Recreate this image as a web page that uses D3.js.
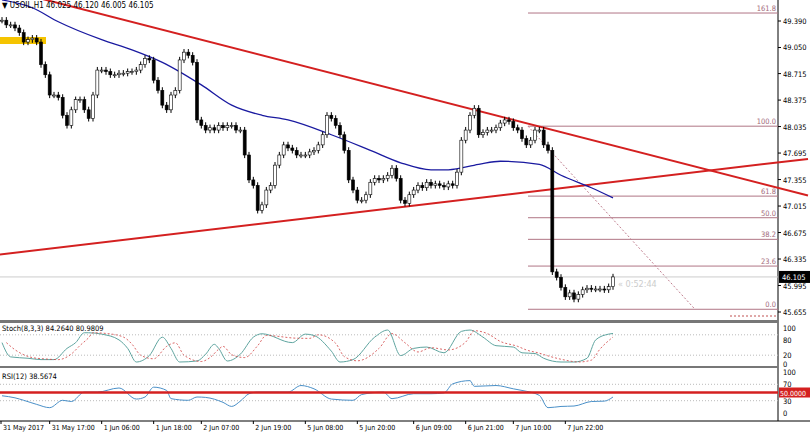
<!DOCTYPE html><html><head><meta charset="utf-8">
<script src="https://cdn.jsdelivr.net/npm/d3@7"></script>
<style>body{margin:0;background:#fff}text{font-family:"DejaVu Sans Condensed","DejaVu Sans",sans-serif;font-stretch:condensed}</style></head><body>
<svg id="c" width="810" height="433"></svg>
<script>
const closes=[49.40,49.34,49.34,49.30,49.24,49.12,49.15,49.17,49.12,48.83,
48.70,48.44,48.44,48.41,48.18,48.05,48.25,48.38,48.38,48.25,
48.14,48.44,48.76,48.76,48.74,48.70,48.70,48.72,48.72,48.74,
48.74,48.76,48.83,48.91,48.89,48.63,48.50,48.31,48.25,48.44,
48.50,48.89,48.99,48.95,48.86,48.12,48.05,47.99,48.02,47.99,
48.05,48.02,48.05,48.05,47.99,47.99,47.67,47.35,47.28,46.96,
47.03,47.22,47.28,47.54,47.67,47.80,47.76,47.73,47.67,47.67,
47.67,47.71,47.73,47.80,47.93,48.18,48.14,48.05,47.93,47.73,
47.35,47.22,47.09,47.09,47.16,47.32,47.37,47.35,47.37,47.41,
47.50,47.37,47.09,47.05,
47.16,47.22,47.28,47.25,47.32,47.28,47.30,47.28,47.26,47.30,
47.28,47.45,47.86,47.99,48.18,48.27,47.93,47.96,47.99,47.99,
48.02,48.08,48.12,48.10,48.02,47.99,47.88,47.80,47.86,47.99,
47.99,47.80,47.73,46.17,46.10,45.97,45.85,45.90,45.82,45.88,
45.94,45.96,45.95,45.95,45.95,45.94,45.98,46.105];
const maIdx=[0,7,13,23,30,37,46,53,60,66,76,85,92,99,103,110,115,124,129,136,141];
const maVal=[49.66,49.56,49.38,49.15,49.02,48.86,48.57,48.31,48.18,48.12,47.93,47.73,47.57,47.48,47.48,47.55,47.59,47.55,47.41,47.25,47.12];
const stIdx=[0,2,6,9,12,15,17,19,20,23,27,29,31,34,37,39,41,45,47,49,50,52,55,58,60,67,70,72,76,78,81,86,89,92,95,98,102,106,108,111,114,118,120,123,125,129,132,135,137,140,141];
const stVal=[57,15,11,7,7,40,57,86,86,82,65,40,0,19,73,40,0,3,23,52,40,3,23,73,83,57,82,78,32,0,7,73,94,19,40,44,27,90,94,73,48,44,27,25,11,0,0,11,65,82,84];
const rsiIdx=[0,3,5,8,11,14,16,19,22,27,31,33,35,38,39,43,45,47,51,53,55,57,59,64,66,69,72,76,81,83,88,90,95,99,102,104,108,109,114,118,120,124,126,129,132,136,139,141];
const rsiVal=[42,37,31,21,13,31,28,51,51,61,34,39,63,55,35,31,39,38,26,16,29,47,51,51,51,67,59,34,31,45,51,35,47,47,49,71,79,65,67,59,55,43,13,16,17,28,29,39];
const priceTicks=[49.390,49.050,48.715,48.375,48.035,47.695,47.355,47.015,46.675,46.335,45.995,45.655];
const timeLabels=["31 May 2017","31 May 17:00","1 Jun 06:00","1 Jun 18:00","2 Jun 07:00","2 Jun 19:00","5 Jun 08:00","5 Jun 20:00","6 Jun 09:00","6 Jun 21:00","7 Jun 10:00","7 Jun 22:00"];
const timeIdx=[0,11,23,35,46,58,70,82,95,107,118,130];
const fibLevels=[0,23.6,38.2,50,61.8,100,161.8];
const fib0=45.69, fib100=48.04;

const svg=d3.select("#c");
const x=d3.scaleLinear().domain([0,141]).range([2,613]);
const y=d3.scaleLinear().domain([45.655,49.39]).range([312,21]);
const ys=d3.scaleLinear().domain([0,100]).range([362,328]);
const yr=d3.scaleLinear().domain([0,100]).range([413,372]);
const AX=778;

svg.append("line").attr("x1",AX).attr("x2",AX).attr("y1",0).attr("y2",421).attr("stroke","#000");
svg.append("line").attr("x1",0).attr("x2",810).attr("y1",421).attr("y2",421).attr("stroke","#000");
[[320,3],[366,2]].forEach(([yy,w])=>svg.append("rect").attr("x",0).attr("y",yy).attr("width",AX).attr("height",w).attr("fill","#777"));

const ax=svg.append("g");
priceTicks.forEach(p=>{ax.append("line").attr("x1",AX).attr("x2",AX+3).attr("y1",y(p)).attr("y2",y(p)).attr("stroke","#000");
 ax.append("text").attr("x",AX+5).attr("y",y(p)+3).attr("font-size",7.5).text(p.toFixed(3));});

const fy=l=>y(fib0+(fib100-fib0)*l/100);
fibLevels.forEach(l=>{svg.append("line").attr("x1",528).attr("x2",AX).attr("y1",fy(l)).attr("y2",fy(l)).attr("stroke","#b07585").attr("stroke-width",1);
 svg.append("text").attr("x",776).attr("y",fy(l)-2).attr("text-anchor","end").attr("font-size",7.5).attr("fill","#a36a7a").text(l.toFixed(1));});
svg.append("line").attr("x1",528).attr("y1",fy(100)).attr("x2",695).attr("y2",fy(0)).attr("stroke","#c08090").attr("stroke-dasharray","2,2");
svg.append("line").attr("x1",730).attr("y1",316).attr("x2",776).attr("y2",316).attr("stroke","#c05050").attr("stroke-dasharray","2,2");

svg.append("line").attr("x1",0).attr("x2",AX).attr("y1",y(46.105)).attr("y2",y(46.105)).attr("stroke","#ccc");
svg.append("rect").attr("x",AX+1).attr("y",y(46.105)-6).attr("width",31).attr("height",12).attr("fill","#000");
svg.append("text").attr("x",AX+4).attr("y",y(46.105)+3).attr("font-size",7.5).attr("fill","#fff").text("46.105");
svg.append("text").attr("x",618).attr("y",287).attr("font-size",9).attr("fill","#ccc").text("« 0:52:44");

svg.append("rect").attr("x",0).attr("y",37).attr("width",46).attr("height",7).attr("fill","#f5c400");

const tl=(i1,p1,i2,p2)=>svg.append("line").attr("x1",x(i1)).attr("y1",y(p1)).attr("x2",x(i2)).attr("y2",y(p2)).attr("stroke","#d42020").attr("stroke-width",2);
tl(-1,49.82,186,47.15);
tl(-1,46.39,186,47.62);

svg.append("path").datum(maIdx.map((d,i)=>[d,maVal[i]])).attr("d",d3.line().x(d=>x(d[0])).y(d=>y(d[1])).curve(d3.curveMonotoneX)).attr("fill","none").attr("stroke","#1a1aa0").attr("stroke-width",1.3);

const pad=0.04;
closes.forEach((c,i)=>{const o=i?closes[i-1]:c; const hi=Math.max(o,c)+pad, lo=Math.min(o,c)-pad; const cx=x(i);
 svg.append("line").attr("x1",cx).attr("x2",cx).attr("y1",y(hi)).attr("y2",y(lo)).attr("stroke","#000");
 svg.append("rect").attr("x",cx-1.5).attr("width",3).attr("y",y(Math.max(o,c))).attr("height",Math.max(1,Math.abs(y(o)-y(c))))
  .attr("fill",c>=o?"#fff":"#000").attr("stroke","#000").attr("stroke-width",0.6);});

svg.append("text").attr("x",2).attr("y",8).attr("font-size",8).text("▼ USOIL,H1  46.025 46.120 46.005 46.105");

[80,20].forEach(v=>svg.append("line").attr("x1",0).attr("x2",AX).attr("y1",ys(v)).attr("y2",ys(v)).attr("stroke","#bbb").attr("stroke-dasharray","1,2"));
[[100,0],[80,5],[20,0],[0,2]].forEach(([v,o])=>svg.append("text").attr("x",AX+5).attr("y",ys(v)+3+o).attr("font-size",7.5).text(v));
const sl=d3.line().x(d=>x(d[0])).y(d=>ys(d[1])).curve(d3.curveMonotoneX);
const st=stIdx.map((d,i)=>[d,stVal[i]]);
svg.append("path").datum(st).attr("d",sl).attr("fill","none").attr("stroke","#5fa5a0").attr("stroke-width",1);
const sig=st.map((d,i)=>[d[0]+1,d3.mean(st.slice(Math.max(0,i-1),i+1),e=>e[1])]).filter(d=>d[0]<=141);
svg.append("path").datum(sig).attr("d",sl).attr("fill","none").attr("stroke","#d04040").attr("stroke-width",0.8).attr("stroke-dasharray","2,2");
svg.append("text").attr("x",2).attr("y",331).attr("font-size",7.5).text("Stoch(8,3,3) 84.2640 80.9809");

[70,30].forEach(v=>svg.append("line").attr("x1",0).attr("x2",AX).attr("y1",yr(v)).attr("y2",yr(v)).attr("stroke","#bbb").attr("stroke-dasharray","1,2"));
svg.append("path").datum(rsiIdx.map((d,i)=>[d,rsiVal[i]])).attr("d",d3.line().x(d=>x(d[0])).y(d=>yr(d[1])).curve(d3.curveMonotoneX)).attr("fill","none").attr("stroke","#4a90c8").attr("stroke-width",1);
svg.append("line").attr("x1",0).attr("x2",AX).attr("y1",yr(50)).attr("y2",yr(50)).attr("stroke","#d42020").attr("stroke-width",2.5);
[100,70,30,0].forEach(v=>svg.append("text").attr("x",AX+5).attr("y",yr(v)+3).attr("font-size",7.5).text(v));
svg.append("rect").attr("x",AX+1).attr("y",yr(50)-5).attr("width",31).attr("height",10).attr("fill","#d42020");
svg.append("text").attr("x",AX+2).attr("y",yr(50)+3).attr("font-size",7).attr("fill","#fff").text("50.0000");
svg.append("text").attr("x",2).attr("y",379).attr("font-size",7.5).text("RSI(12) 38.5674");

timeIdx.forEach((ti,k)=>{const px=k===0?1:x(ti);
 svg.append("line").attr("x1",px).attr("x2",px).attr("y1",421).attr("y2",424).attr("stroke","#000");
 svg.append("text").attr("x",px+2).attr("y",430).attr("font-size",7).text(timeLabels[k]);});
</script></body></html>
